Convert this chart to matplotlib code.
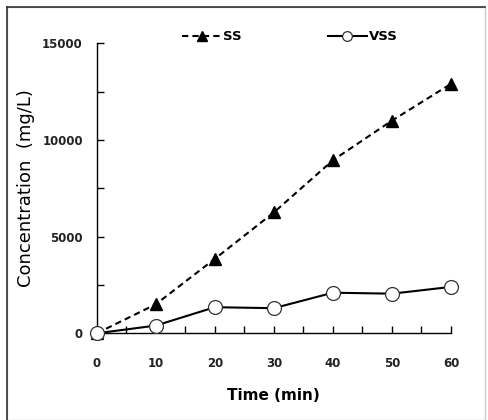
import matplotlib
matplotlib.use("Agg")
import matplotlib.pyplot as plt
from matplotlib.lines import Line2D
from matplotlib.patches import Rectangle
from matplotlib.ticker import MultipleLocator

time_min = [0, 10, 20, 30, 40, 50, 60]
ss = [0, 1500, 3850, 6250, 8950, 11000, 12900]
vss = [0, 400, 1350, 1300, 2100, 2050, 2400]

plt.rcParams['font.family'] = ['DejaVu Sans']

fig = plt.figure(figsize=(4.89, 4.20), dpi=100)
ax = fig.add_axes([0.1978, 0.2064, 0.9223 - 0.1978, 0.897 - 0.2064])

ax.plot(time_min, ss, linestyle=(0, (3, 2)), color='black', lw=1.5,
        marker='^', markersize=8, markerfacecolor='black', clip_on=False, label='SS', zorder=3)
ax.plot(time_min, vss, linestyle='-', color='black', lw=1.5,
        marker='o', markersize=10, markerfacecolor='white', markeredgecolor='#333333',
        markeredgewidth=0.9, clip_on=False, label='VSS', zorder=3)

ax.set_xlim(0, 60)
ax.set_ylim(0, 15000)
ax.set_xticks(time_min)
ax.xaxis.set_minor_locator(MultipleLocator(5))
ax.set_yticks([0, 5000, 10000, 15000])
ax.yaxis.set_minor_locator(MultipleLocator(2500))
for s in ['top', 'right']:
    ax.spines[s].set_visible(False)
for s in ['left', 'bottom']:
    ax.spines[s].set_linewidth(1.0)

ax.tick_params(axis='x', which='both', direction='in', length=5, width=1, pad=17)
ax.tick_params(axis='y', which='both', direction='in', length=5, width=1, pad=10)
for lbl in ax.get_xticklabels() + ax.get_yticklabels():
    lbl.set_fontweight('bold')
    lbl.set_fontsize(8.5)
    lbl.set_color('#222222')

ax.set_xlabel('Time (min)', fontsize=11, fontweight='bold', labelpad=13)
ax.set_ylabel('Concentration  (mg/L)', fontsize=13, labelpad=5)

leg = ax.legend(loc='upper center', bbox_to_anchor=(0.545, 1.085), ncol=2, frameon=False,
                handlelength=3.0, handletextpad=0.1, columnspacing=6.5,
                prop={'weight': 'bold', 'size': 9.5})
for h in leg.legend_handles:
    h.set_markersize(7)

# outer frame
fig.patches.append(Rectangle((7/489, 0), 478/489, 413/420, transform=fig.transFigure,
                             fill=False, edgecolor='#cccccc', lw=1))
fig.add_artist(Line2D([7/489, 7/489], [0, 413/420], transform=fig.transFigure, color='#333333', lw=1.2))
fig.add_artist(Line2D([7/489, 485/489], [413/420, 413/420], transform=fig.transFigure, color='#333333', lw=1.2))

fig.savefig('out.png', dpi=100)
